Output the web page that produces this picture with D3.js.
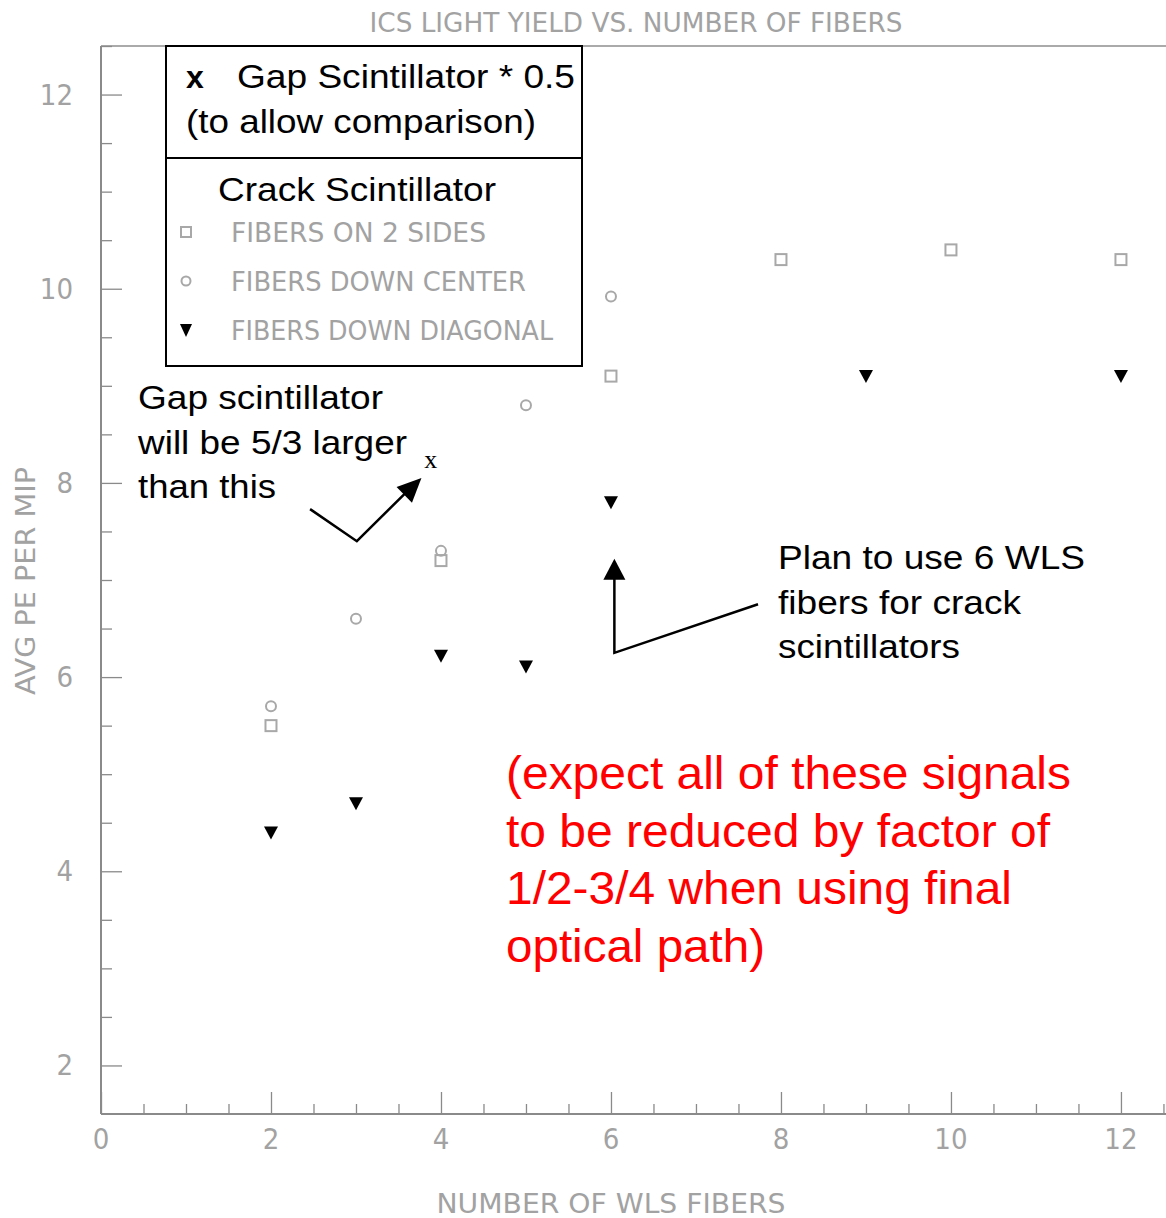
<!DOCTYPE html>
<html>
<head>
<meta charset="utf-8">
<script src="https://cdn.jsdelivr.net/npm/d3@7"></script>
<style>
  body { margin: 0; background: #fff; }
  .gray { font-family: "Liberation Sans Narrow", "DejaVu Sans Condensed", sans-serif; fill: #a2a2a2; }
  .note { font-family: "Liberation Sans", Arial, sans-serif; fill: #000; }
</style>
</head>
<body>
<svg width="1166" height="1218"></svg>
<script>
// data
const fibers2Sides = [[2, 5.5], [4, 7.2], [6, 9.1], [8, 10.3], [10, 10.4], [12, 10.3]];
const fibersCenter = [[2, 5.7], [3, 6.6], [4, 7.3], [5, 8.8], [6, 9.92]];
const fibersDiagonal = [[2, 4.4], [3, 4.7], [4, 6.22], [5, 6.11], [6, 7.8], [9, 9.1], [12, 9.1]];
const gapPoint = [[3.88, 8.23]];
const xTicks = [0, 2, 4, 6, 8, 10, 12];
const yTicks = [2, 4, 6, 8, 10, 12];
const legendLabels = ['FIBERS ON 2 SIDES', 'FIBERS DOWN CENTER', 'FIBERS DOWN DIAGONAL'];

const svg = d3.select('svg');

const x = d3.scaleLinear().domain([0, 12.53]).range([101, 1166]);
const y = d3.scaleLinear().domain([1.5, 12.5]).range([1114, 46]);

const axisColor = '#8a8a8a';

// frame: top line
svg.append('line')
    .attr('x1', 101).attr('x2', 1166)
    .attr('y1', 46).attr('y2', 46)
    .attr('stroke', '#aaa').attr('stroke-width', 2);

// minor ticks (every 0.5)
const minorX = d3.range(0.5, 12.6, 0.5).filter(d => d % 2 !== 0);
const minorY = d3.range(2, 12.6, 0.5).filter(d => d % 2 !== 0);

const xAxis = svg.append('g')
    .attr('transform', `translate(0, ${y(1.5)})`)
    .call(d3.axisTop(x).tickValues(xTicks).tickSize(22).tickFormat(''));
const xMinor = svg.append('g')
    .attr('transform', `translate(0, ${y(1.5)})`)
    .call(d3.axisTop(x).tickValues(minorX).tickSize(10).tickFormat(''));
const yAxis = svg.append('g')
    .attr('transform', `translate(${x(0)}, 0)`)
    .call(d3.axisRight(y).tickValues(yTicks).tickSize(21).tickFormat(''));
const yMinor = svg.append('g')
    .attr('transform', `translate(${x(0)}, 0)`)
    .call(d3.axisRight(y).tickValues(minorY).tickSize(11).tickFormat(''));

[xAxis, xMinor, yAxis, yMinor].forEach(g => {
    g.selectAll('line').attr('stroke', axisColor).attr('stroke-width', 1.3);
    g.select('.domain').attr('stroke', axisColor).attr('stroke-width', 2);
});
xAxis.select('.domain').attr('d', `M${x(0)},0H1166`);
yAxis.select('.domain').attr('d', `M0,${y(12.5)}V${y(1.5)}`);
xMinor.select('.domain').remove();
yMinor.select('.domain').remove();

// tick labels
svg.selectAll('.xlab')
    .data(xTicks)
    .enter().append('text')
    .attr('class', 'gray')
    .attr('x', d => x(d))
    .attr('y', 1149)
    .attr('text-anchor', 'middle')
    .attr('font-size', 29)
    .text(d => d);

svg.selectAll('.ylab')
    .data(yTicks)
    .enter().append('text')
    .attr('class', 'gray')
    .attr('x', 73)
    .attr('y', d => y(d) + 10)
    .attr('text-anchor', 'end')
    .attr('font-size', 29)
    .text(d => d);

// titles
svg.append('text')
    .attr('class', 'gray')
    .attr('x', 636).attr('y', 32)
    .attr('text-anchor', 'middle')
    .attr('font-size', 27)
    .attr('textLength', 533)
    .attr('lengthAdjust', 'spacingAndGlyphs')
    .text('ICS LIGHT YIELD VS. NUMBER OF FIBERS');

svg.append('text')
    .attr('class', 'gray')
    .attr('x', 611).attr('y', 1213)
    .attr('text-anchor', 'middle')
    .attr('font-size', 27)
    .attr('textLength', 349)
    .attr('lengthAdjust', 'spacingAndGlyphs')
    .text('NUMBER OF WLS FIBERS');

svg.append('text')
    .attr('class', 'gray')
    .attr('transform', 'translate(35, 581) rotate(-90)')
    .attr('text-anchor', 'middle')
    .attr('font-size', 27)
    .attr('textLength', 228)
    .attr('lengthAdjust', 'spacingAndGlyphs')
    .text('AVG PE PER MIP');

// marker drawers
const sq = 11, circ = 5, tri = 7;
function drawSquares(g, data) {
    g.selectAll(null).data(data).enter().append('rect')
        .attr('x', d => x(d[0]) - sq / 2)
        .attr('y', d => y(d[1]) - sq / 2)
        .attr('width', sq).attr('height', sq)
        .attr('fill', 'none').attr('stroke', '#a8a8a8').attr('stroke-width', 2);
}
function drawCircles(g, data) {
    g.selectAll(null).data(data).enter().append('circle')
        .attr('cx', d => x(d[0]))
        .attr('cy', d => y(d[1]))
        .attr('r', circ)
        .attr('fill', 'none').attr('stroke', '#a8a8a8').attr('stroke-width', 2);
}
function drawTriangles(g, data) {
    g.selectAll(null).data(data).enter().append('path')
        .attr('d', d => {
            const cx = x(d[0]), cy = y(d[1]);
            return `M${cx - tri},${cy - 6}L${cx + tri},${cy - 6}L${cx},${cy + 7}Z`;
        })
        .attr('fill', '#000');
}

const marks = svg.append('g');
drawSquares(marks, fibers2Sides);
drawCircles(marks, fibersCenter);
drawTriangles(marks, fibersDiagonal);

marks.selectAll(null).data(gapPoint).enter().append('text')
    .attr('x', d => x(d[0]))
    .attr('y', d => y(d[1]) + 7)
    .attr('text-anchor', 'middle')
    .attr('font-family', '"Liberation Serif", "DejaVu Serif", serif')
    .attr('font-size', 26)
    .text('x');

// legend box
const legend = svg.append('g');
legend.append('rect')
    .attr('x', 166).attr('y', 46).attr('width', 416).attr('height', 320)
    .attr('fill', '#fff').attr('stroke', '#000').attr('stroke-width', 2);
legend.append('line')
    .attr('x1', 166).attr('x2', 582).attr('y1', 158).attr('y2', 158)
    .attr('stroke', '#000').attr('stroke-width', 2);
legend.append('text').attr('class', 'note')
    .attr('x', 186).attr('y', 88).attr('font-size', 32).attr('font-weight', 'bold')
    .text('x');
legend.append('text').attr('class', 'note')
    .attr('x', 237).attr('y', 88).attr('font-size', 33)
    .attr('textLength', 338).attr('lengthAdjust', 'spacingAndGlyphs')
    .text('Gap Scintillator * 0.5');
legend.append('text').attr('class', 'note')
    .attr('x', 186).attr('y', 133).attr('font-size', 33)
    .attr('textLength', 350).attr('lengthAdjust', 'spacingAndGlyphs')
    .text('(to allow comparison)');
legend.append('text').attr('class', 'note')
    .attr('x', 218).attr('y', 201).attr('font-size', 33)
    .attr('textLength', 278).attr('lengthAdjust', 'spacingAndGlyphs')
    .text('Crack Scintillator');

const legendY = [232, 281, 330];
const legendW = [255, 295, 322];
legend.selectAll('.ltext').data(legendLabels).enter().append('text')
    .attr('class', 'gray')
    .attr('x', 231).attr('y', (d, i) => legendY[i] + 10)
    .attr('font-size', 27)
    .attr('textLength', (d, i) => legendW[i])
    .attr('lengthAdjust', 'spacingAndGlyphs')
    .text(d => d);
legend.append('rect')
    .attr('x', 181).attr('y', legendY[0] - 5).attr('width', 10).attr('height', 10)
    .attr('fill', 'none').attr('stroke', '#a8a8a8').attr('stroke-width', 2);
legend.append('circle')
    .attr('cx', 186).attr('cy', legendY[1]).attr('r', 4.5)
    .attr('fill', 'none').attr('stroke', '#a8a8a8').attr('stroke-width', 2);
legend.append('path')
    .attr('d', `M${186 - 6},${legendY[2] - 6}L${186 + 6},${legendY[2] - 6}L186,${legendY[2] + 7}Z`)
    .attr('fill', '#000');

// annotations
const ann = svg.append('g');

function arrowHead(tip, from, len, half) {
    const dx = tip[0] - from[0], dy = tip[1] - from[1];
    const l = Math.hypot(dx, dy), ux = dx / l, uy = dy / l;
    const bx = tip[0] - ux * len, by = tip[1] - uy * len;
    return `M${tip[0]},${tip[1]}L${bx - uy * half},${by + ux * half}L${bx + uy * half},${by - ux * half}Z`;
}

const arrow1 = [[2.46, 7.73], [3.01, 7.40], [3.77, 8.05]].map(d => [x(d[0]), y(d[1])]);
ann.append('path')
    .attr('d', d3.line()(arrow1.slice(0, 2).concat([[arrow1[2][0] - 12, arrow1[2][1] + 11]])))
    .attr('fill', 'none').attr('stroke', '#000').attr('stroke-width', 2.5);
ann.append('path').attr('d', arrowHead(arrow1[2], arrow1[1], 24, 11)).attr('fill', '#000');

const arrow2 = [[7.73, 6.75], [6.04, 6.25], [6.04, 7.22]].map(d => [x(d[0]), y(d[1])]);
ann.append('path')
    .attr('d', d3.line()(arrow2.slice(0, 2).concat([[arrow2[2][0], arrow2[2][1] + 15]])))
    .attr('fill', 'none').attr('stroke', '#000').attr('stroke-width', 2.5);
ann.append('path').attr('d', arrowHead(arrow2[2], arrow2[1], 21, 11)).attr('fill', '#000');

const gapNote = ['Gap scintillator', 'will be 5/3 larger', 'than this'];
const gapW = [245, 269, 138];
ann.selectAll(null).data(gapNote).enter().append('text')
    .attr('class', 'note')
    .attr('x', 138).attr('y', (d, i) => 409 + i * 44.5)
    .attr('font-size', 33)
    .attr('textLength', (d, i) => gapW[i])
    .attr('lengthAdjust', 'spacingAndGlyphs')
    .text(d => d);

const planNote = ['Plan to use 6 WLS', 'fibers for crack', 'scintillators'];
const planW = [307, 243, 182];
ann.selectAll(null).data(planNote).enter().append('text')
    .attr('class', 'note')
    .attr('x', 778).attr('y', (d, i) => 569 + i * 44.5)
    .attr('font-size', 33)
    .attr('textLength', (d, i) => planW[i])
    .attr('lengthAdjust', 'spacingAndGlyphs')
    .text(d => d);

const redNote = ['(expect all of these signals', 'to be reduced by factor of', '1/2-3/4 when using final', 'optical path)'];
const redW = [565, 544, 506, 259];
ann.selectAll(null).data(redNote).enter().append('text')
    .attr('x', 506).attr('y', (d, i) => 789 + i * 57.5)
    .attr('font-family', '"Liberation Sans", Arial, sans-serif')
    .attr('font-size', 46)
    .attr('fill', '#ff0000')
    .attr('textLength', (d, i) => redW[i])
    .attr('lengthAdjust', 'spacingAndGlyphs')
    .text(d => d);
</script>
</body>
</html>
